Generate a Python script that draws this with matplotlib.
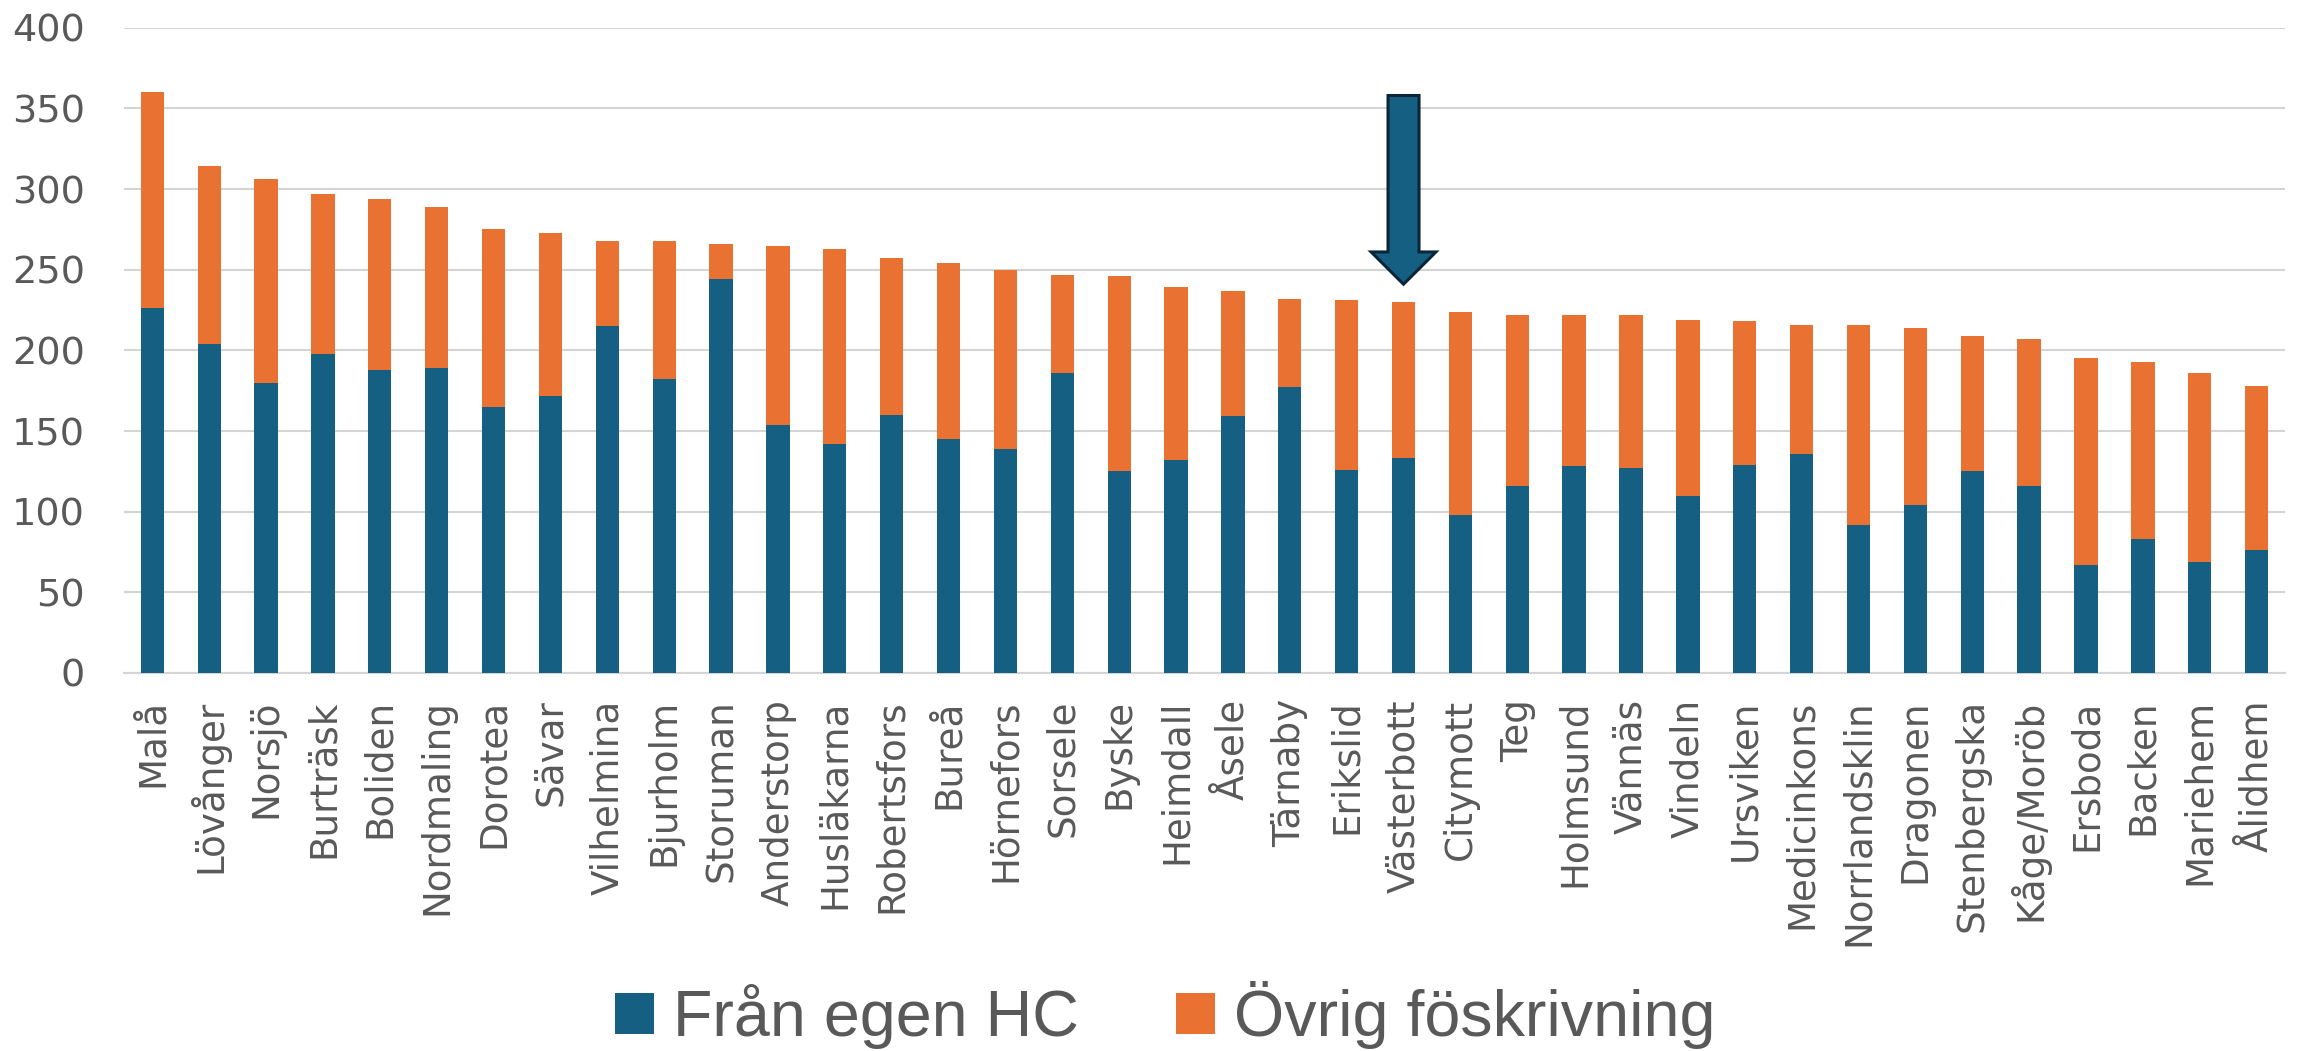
import matplotlib
matplotlib.use("Agg")
import matplotlib.pyplot as plt
import matplotlib.patches as mpatches
import numpy as np

# Data
categories = ["Malå", "Lövånger", "Norsjö", "Burträsk", "Boliden", "Nordmaling",
              "Dorotea", "Sävar", "Vilhelmina", "Bjurholm", "Storuman", "Anderstorp",
              "Husläkarna", "Robertsfors", "Bureå", "Hörnefors", "Sorsele", "Byske",
              "Heimdall", "Åsele", "Tärnaby", "Erikslid", "Västerbott", "Citymott",
              "Teg", "Holmsund", "Vännäs", "Vindeln", "Ursviken", "Medicinkons",
              "Norrlandsklin", "Dragonen", "Stenbergska", "Kåge/Moröb", "Ersboda",
              "Backen", "Mariehem", "Ålidhem"]
totals = [360, 314, 306, 297, 294, 289, 275, 273, 268, 268, 266, 265,
          263, 257, 254, 250, 247, 246, 239, 237, 232, 231, 230, 224,
          222, 222, 222, 219, 218, 216, 216, 214, 209, 207, 195, 193, 186, 178]
fran_egen_hc = [226, 204, 180, 198, 188, 189, 165, 172, 215, 182, 244, 154,
                142, 160, 145, 139, 186, 125, 132, 159, 177, 126, 133, 98,
                116, 128, 127, 110, 129, 136, 92, 104, 125, 116, 67, 83, 69, 76]
ovrig = [t - f for t, f in zip(totals, fran_egen_hc)]

series_names = ["Från egen HC", "Övrig föskrivning"]
highlight = "Västerbott"

BLUE = "#156082"
ORANGE = "#E97132"
GREY = "#595959"

fig = plt.figure(figsize=(23.03, 10.51), dpi=100)
ax = fig.add_axes([0.0538, 0.3597, 0.9384, 0.6139])

x = np.arange(len(categories))
w = 0.41
b1 = ax.bar(x, fran_egen_hc, width=w, color=BLUE, zorder=3, label=series_names[0])
b2 = ax.bar(x, ovrig, width=w, bottom=fran_egen_hc, color=ORANGE, zorder=3,
            label=series_names[1])

ax.set_xlim(-0.5, len(categories) - 0.5)
ax.set_ylim(0, 400)
ax.set_yticks(np.arange(0, 401, 50))
ax.yaxis.grid(True, color="#d4d4d4", linewidth=1.5, zorder=0)
ax.set_axisbelow(True)
for s in ["top", "right", "left"]:
    ax.spines[s].set_visible(False)
ax.spines["bottom"].set_color("#d4d4d4")
ax.spines["bottom"].set_linewidth(1.5)

ax.set_xticks(x)
ax.set_xticklabels(categories, rotation=90, fontsize=26.8, color=GREY,
                   family="DejaVu Sans")
ax.tick_params(axis="x", length=0, pad=19)
ax.tick_params(axis="y", length=0, pad=28, labelsize=27.5, labelcolor=GREY)

# arrow pointing at the highlighted bar
hi = categories.index(highlight)
arrow = mpatches.FancyArrow(hi, 358, 0, -117, width=0.545, head_width=1.14,
                            head_length=20, length_includes_head=True,
                            facecolor=BLUE, edgecolor="#0b2636", linewidth=2.2,
                            zorder=5)
ax.add_patch(arrow)

fig.legend(handles=[b1, b2], loc="center", bbox_to_anchor=(0.506, 0.034),
           ncol=2, frameon=False, prop={"family": "Liberation Sans", "size": 46.5},
           labelcolor=GREY, handlelength=0.6, handleheight=0.6,
           handletextpad=0.3, columnspacing=1.5)

fig.savefig("out.png", dpi=100)
